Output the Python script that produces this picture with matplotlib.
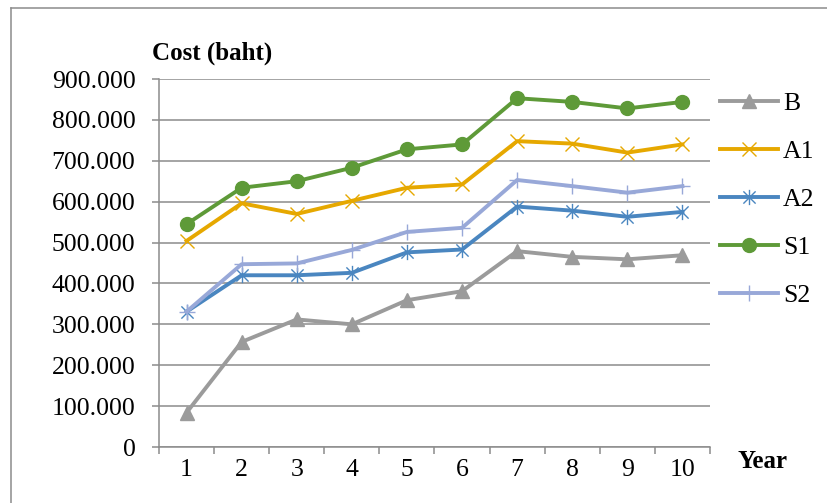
import numpy as np
import matplotlib
matplotlib.use("Agg")
import matplotlib.pyplot as plt
from matplotlib.path import Path
from matplotlib.lines import Line2D

# ── DATA ──────────────────────────────────────────────────────────────────────
years = [1, 2, 3, 4, 5, 6, 7, 8, 9, 10]

cost_b  = [84, 257, 312, 300, 359, 381, 479, 465, 459, 469]
cost_a1 = [504, 596, 570, 602, 634, 642, 748, 742, 720, 740]
cost_a2 = [331, 420, 420, 426, 476, 483, 588, 578, 563, 575]
cost_s1 = [545, 634, 650, 683, 728, 740, 853, 844, 828, 844]
cost_s2 = [331, 447, 449, 482, 526, 536, 653, 638, 622, 638]

y_ticks = [0, 100, 200, 300, 400, 500, 600, 700, 800, 900]
y_tick_labels = ["0", "100.000", "200.000", "300.000", "400.000",
                 "500.000", "600.000", "700.000", "800.000", "900.000"]

# ── STYLE ─────────────────────────────────────────────────────────────────────
plt.rcParams["font.family"] = ["Liberation Serif", "DejaVu Serif"]
FS = 18.5
FS_BOLD = 18
GRID = "#8c8c8c"

# Excel-like "star" marker: vertical bar plus an X
star = Path(
    [(0, -1), (0, 1), (-0.8, -0.8), (0.8, 0.8), (-0.8, 0.8), (0.8, -0.8)],
    [Path.MOVETO, Path.LINETO, Path.MOVETO, Path.LINETO, Path.MOVETO, Path.LINETO],
)

series = [
    ("B",  cost_b,  "#9b9b9b", "^",  dict(markersize=10)),
    ("A1", cost_a1, "#e6a800", "x",  dict(markersize=10, markeredgewidth=1.0)),
    ("A2", cost_a2, "#4a86c0", star, dict(markersize=11, markeredgewidth=1.0)),
    ("S1", cost_s1, "#5e9a38", "o",  dict(markersize=10)),
    ("S2", cost_s2, "#98a8d8", "+",  dict(markersize=12, markeredgewidth=1.0)),
]

# ── PLOT ──────────────────────────────────────────────────────────────────────
fig = plt.figure(figsize=(8.28, 5.03), dpi=100)
ax = fig.add_axes([159 / 828, 1 - 447 / 503, (710 - 159) / 828, (447 - 79) / 503])

for name, vals, color, marker, mk in series:
    ax.plot(years, vals, color=color, lw=2.8, marker=marker,
            markerfacecolor=color, markeredgecolor=color, label=name,
            solid_joinstyle="round", zorder=3, **mk)

ax.set_xlim(0.5, 10.5)
ax.set_ylim(0, 900)

ax.set_yticks(y_ticks)
ax.set_yticklabels(y_tick_labels, fontsize=FS)
ax.yaxis.grid(True, color=GRID, lw=1.1)
ax.set_axisbelow(True)

# category boundaries carry the ticks, labels sit at the centres
ax.set_xticks(np.arange(0.5, 11, 1.0))
ax.set_xticklabels([])
ax.set_xticks(years, minor=True)
ax.set_xticklabels([str(y) for y in years], minor=True, fontsize=FS)

ax.tick_params(axis="x", which="major", direction="out", length=5, width=1.1, color=GRID)
ax.tick_params(axis="x", which="minor", length=0, pad=9)
ax.tick_params(axis="y", direction="out", length=5, width=1.1, color=GRID, pad=12)

for side in ["top", "right"]:
    ax.spines[side].set_visible(False)
for side in ["left", "bottom"]:
    ax.spines[side].set_color(GRID)
    ax.spines[side].set_linewidth(1.1)

fig.text(152 / 828, 1 - 53 / 503, "Cost (baht)", fontsize=FS_BOLD,
         fontweight="bold", ha="left", va="center")
fig.text(738 / 828, 1 - 461 / 503, "Year", fontsize=FS_BOLD,
         fontweight="bold", ha="left", va="center")

ax.legend(loc="upper left", bbox_to_anchor=(720 / 828, 1 - 92 / 503),
          bbox_transform=fig.transFigure, frameon=False, fontsize=FS,
          handlelength=2.25, handletextpad=0.2, labelspacing=0.97,
          borderpad=0, borderaxespad=0)

# outer chart border (cropped at right and bottom)
fig.add_artist(Line2D([11 / 828, 11 / 828], [0, 1 - 8 / 503],
                      transform=fig.transFigure, color=GRID, lw=1.1))
fig.add_artist(Line2D([11 / 828, 1], [1 - 8 / 503, 1 - 8 / 503],
                      transform=fig.transFigure, color=GRID, lw=1.1))

plt.savefig("out.png", dpi=100)
